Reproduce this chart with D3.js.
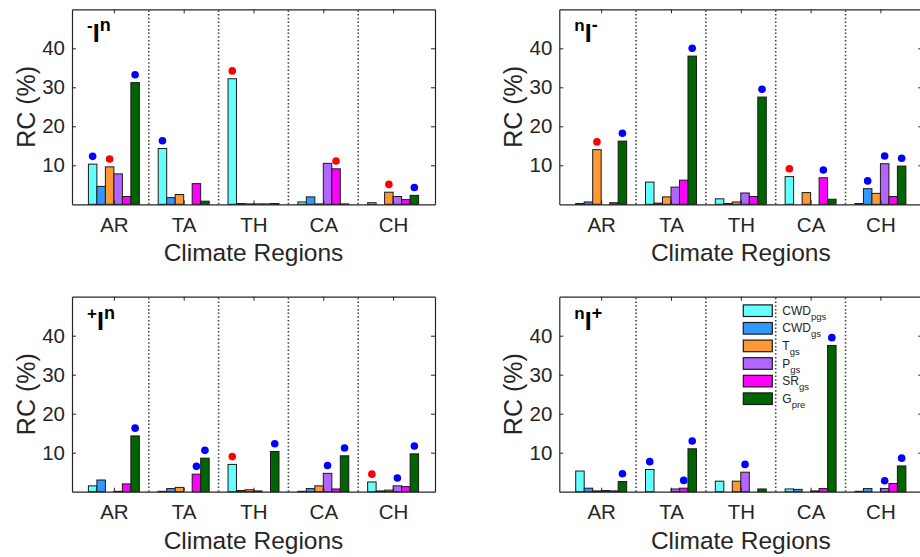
<!DOCTYPE html>
<html>
<head>
<meta charset="utf-8">
<script src="https://cdn.jsdelivr.net/npm/d3@7"></script>
<style>
  body { margin: 0; background: #fff; }
  svg { display: block; font-family: "Liberation Sans", Arial, Helvetica, sans-serif; }
</style>
</head>
<body>
<div id="chart"></div>
<script>
(function () {
  const regions = ["AR", "TA", "TH", "CA", "CH"];
  const drivers = [
    {name: "CWD", sub: "pgs"},
    {name: "CWD", sub: "gs"},
    {name: "T", sub: "gs"},
    {name: "P", sub: "gs"},
    {name: "SR", sub: "gs"},
    {name: "G", sub: "pre"}
  ];
  const colors = ["#66ffff", "#3399ff", "#ff9933", "#b266ff", "#ff00ff", "#006400"];
  const yTicks = [10, 20, 30, 40];

  // relative contribution (%), rows = regions, cols = drivers
  const rcMinusN = [
    [10.3, 4.6, 9.6, 7.8, 2.0, 31.2],
    [14.3, 1.7, 2.5, 0.0, 5.3, 0.8],
    [32.2, 0.2, 0.1, 0.1, 0.1, 0.2],
    [0.6, 1.9, 0.1, 10.5, 9.1, 0.1],
    [0.4, 0.0, 3.1, 2.0, 1.2, 2.3]
  ];
  const rcNMinus = [
    [0.2, 0.6, 14.0, 0.0, 0.4, 16.2],
    [5.7, 0.3, 1.9, 4.4, 6.2, 38.0],
    [1.4, 0.2, 0.6, 2.9, 2.0, 27.5],
    [7.1, 0.0, 3.0, 0.0, 6.8, 1.3],
    [0.2, 4.0, 2.8, 10.4, 2.0, 9.8]
  ];
  const rcPlusN = [
    [1.5, 3.0, 0.0, 0.1, 2.0, 14.3],
    [0.1, 0.8, 1.1, 0.0, 4.5, 8.6],
    [7.0, 0.3, 0.5, 0.2, 0.0, 10.3],
    [0.1, 0.8, 1.5, 4.7, 0.7, 9.2],
    [2.5, 0.2, 0.4, 1.5, 1.3, 9.7]
  ];
  const rcNPlus = [
    [5.3, 0.9, 0.2, 0.3, 0.2, 2.6],
    [5.7, 0.0, 0.0, 0.7, 0.9, 11.0],
    [2.7, 0.0, 2.7, 5.0, 0.0, 0.7],
    [0.7, 0.6, 0.0, 0.2, 0.8, 37.5],
    [0.1, 0.8, 0.0, 0.8, 2.1, 6.6]
  ];

  // significance markers: 0 none, 1 blue, 2 red
  const sigMinusN = [
    [1, 0, 2, 0, 0, 1],
    [1, 0, 0, 0, 0, 0],
    [2, 0, 0, 0, 0, 0],
    [0, 0, 0, 0, 2, 0],
    [0, 0, 2, 0, 0, 1]
  ];
  const sigNMinus = [
    [0, 0, 2, 0, 0, 1],
    [0, 0, 0, 0, 0, 1],
    [0, 0, 0, 0, 0, 1],
    [2, 0, 0, 0, 1, 0],
    [0, 1, 0, 1, 0, 1]
  ];
  const sigPlusN = [
    [0, 0, 0, 0, 0, 1],
    [0, 0, 0, 0, 1, 1],
    [2, 0, 0, 0, 0, 1],
    [0, 0, 0, 1, 0, 1],
    [2, 0, 0, 1, 0, 1]
  ];
  const sigNPlus = [
    [0, 0, 0, 0, 0, 1],
    [1, 0, 0, 0, 1, 1],
    [0, 0, 0, 1, 0, 0],
    [0, 0, 0, 0, 0, 1],
    [0, 0, 0, 1, 0, 1]
  ];
  const sigColors = [null, "#0000ff", "#ff0000"];

  const panels = [
    {pre: "-", post: "n", values: rcMinusN, sig: sigMinusN, x0: 72, y0: 9.3},
    {pre: "n", post: "-", values: rcNMinus, sig: sigNMinus, x0: 559.3, y0: 9.3},
    {pre: "+", post: "n", values: rcPlusN, sig: sigPlusN, x0: 72, y0: 296.7},
    {pre: "n", post: "+", values: rcNPlus, sig: sigNPlus, x0: 559.3, y0: 296.7, legend: true}
  ];

  const width = 363;
  const height = 195;
  const axisColor = "#262626";

  const svg = d3.select("#chart").append("svg")
    .attr("width", 920)
    .attr("height", 557);

  panels.forEach(function (p) {
    const x = d3.scaleLinear().domain([0.4, 5.6]).range([p.x0, p.x0 + width]);
    const y = d3.scaleLinear().domain([0, 50]).range([p.y0 + height, p.y0]);
    const inner = d3.scaleBand().domain(d3.range(drivers.length)).range([-0.365, 0.365]);
    const bw = x(inner.bandwidth()) - x(0);

    const g = svg.append("g");

    // dotted separators
    g.selectAll("line.sep")
      .data([1.5, 2.5, 3.5, 4.5])
      .enter().append("line")
      .attr("class", "sep")
      .attr("x1", d => x(d)).attr("x2", d => x(d))
      .attr("y1", y(0)).attr("y2", y(50))
      .attr("stroke", "#444")
      .attr("stroke-width", 1.6)
      .attr("stroke-dasharray", "1.5,2.2");

    // bars
    p.values.forEach(function (row, i) {
      g.selectAll(null)
        .data(row)
        .enter().append("rect")
        .attr("x", (d, j) => x(i + 1 + inner(j)))
        .attr("y", d => y(d))
        .attr("width", bw)
        .attr("height", d => y(0) - y(d))
        .attr("fill", (d, j) => colors[j])
        .attr("stroke", "#1a1a1a")
        .attr("stroke-width", 1);

      g.selectAll(null)
        .data(row.map((d, j) => ({v: d, j: j, s: p.sig[i][j]})).filter(d => d.s > 0))
        .enter().append("circle")
        .attr("cx", d => x(i + 1 + inner(d.j)) + bw / 2)
        .attr("cy", d => y(d.v + 2))
        .attr("r", 3.8)
        .attr("fill", d => sigColors[d.s]);
    });

    // axes
    const bottom = g.append("g")
      .attr("transform", "translate(0," + y(0) + ")")
      .call(d3.axisBottom(x).tickValues([1, 2, 3, 4, 5])
        .tickFormat((d) => regions[d - 1]).tickSizeInner(-4).tickSizeOuter(0).tickPadding(13));
    const top = g.append("g")
      .attr("transform", "translate(0," + y(50) + ")")
      .call(d3.axisTop(x).tickValues([1, 2, 3, 4, 5]).tickFormat("").tickSizeInner(-4).tickSizeOuter(0));
    const left = g.append("g")
      .attr("transform", "translate(" + x(0.4) + ",0)")
      .call(d3.axisLeft(y).tickValues(yTicks).tickSizeInner(-4).tickSizeOuter(0).tickPadding(7));
    const right = g.append("g")
      .attr("transform", "translate(" + x(5.6) + ",0)")
      .call(d3.axisRight(y).tickValues(yTicks).tickFormat("").tickSizeInner(-4).tickSizeOuter(0));

    [bottom, top, left, right].forEach(function (a) {
      a.select(".domain").attr("stroke", axisColor).attr("stroke-width", 1.2);
      a.selectAll(".tick line").attr("stroke", axisColor);
      a.selectAll(".tick text")
        .attr("fill", axisColor)
        .style("font-family", "'Liberation Sans', Arial, sans-serif")
        .style("font-size", "20.5px");
    });

    // axis labels
    g.append("text")
      .attr("x", x(3))
      .attr("y", y(0) + 57)
      .attr("text-anchor", "middle")
      .attr("fill", axisColor)
      .style("font-size", "24.5px")
      .text("Climate Regions");

    g.append("text")
      .attr("transform", "translate(" + (p.x0 - 37) + "," + (p.y0 + height / 2) + ") rotate(-90)")
      .attr("text-anchor", "middle")
      .attr("fill", axisColor)
      .style("font-size", "25px")
      .text("RC (%)");

    // panel tag
    const tag = g.append("text")
      .attr("x", p.x0 + 15)
      .attr("y", p.y0 + 33)
      .attr("fill", "#000")
      .style("font-weight", "bold");
    tag.append("tspan").attr("dy", -11).style("font-size", "17px").text(p.pre);
    tag.append("tspan").attr("dy", 11).style("font-size", "25px").text("I");
    tag.append("tspan").attr("dy", -11).style("font-size", "18px").text(p.post);

    if (p.legend) {
      const lg = g.append("g")
        .attr("transform", "translate(" + (p.x0 + 184) + "," + (p.y0 + 14) + ")");
      drivers.forEach(function (d, k) {
        const row = lg.append("g").attr("transform", "translate(0," + (k * 17.6) + ")");
        row.append("rect")
          .attr("x", 0).attr("y", -5.8)
          .attr("width", 29).attr("height", 11.6)
          .attr("fill", colors[k])
          .attr("stroke", "#1a1a1a")
          .attr("stroke-width", 1.2);
        const t = row.append("text")
          .attr("x", 39).attr("y", 4)
          .attr("fill", axisColor)
          .style("font-size", "12px");
        t.append("tspan").text(d.name);
        t.append("tspan").attr("dy", 5).style("font-size", "9.5px").text(d.sub);
      });
    }
  });
})();
</script>
</body>
</html>
